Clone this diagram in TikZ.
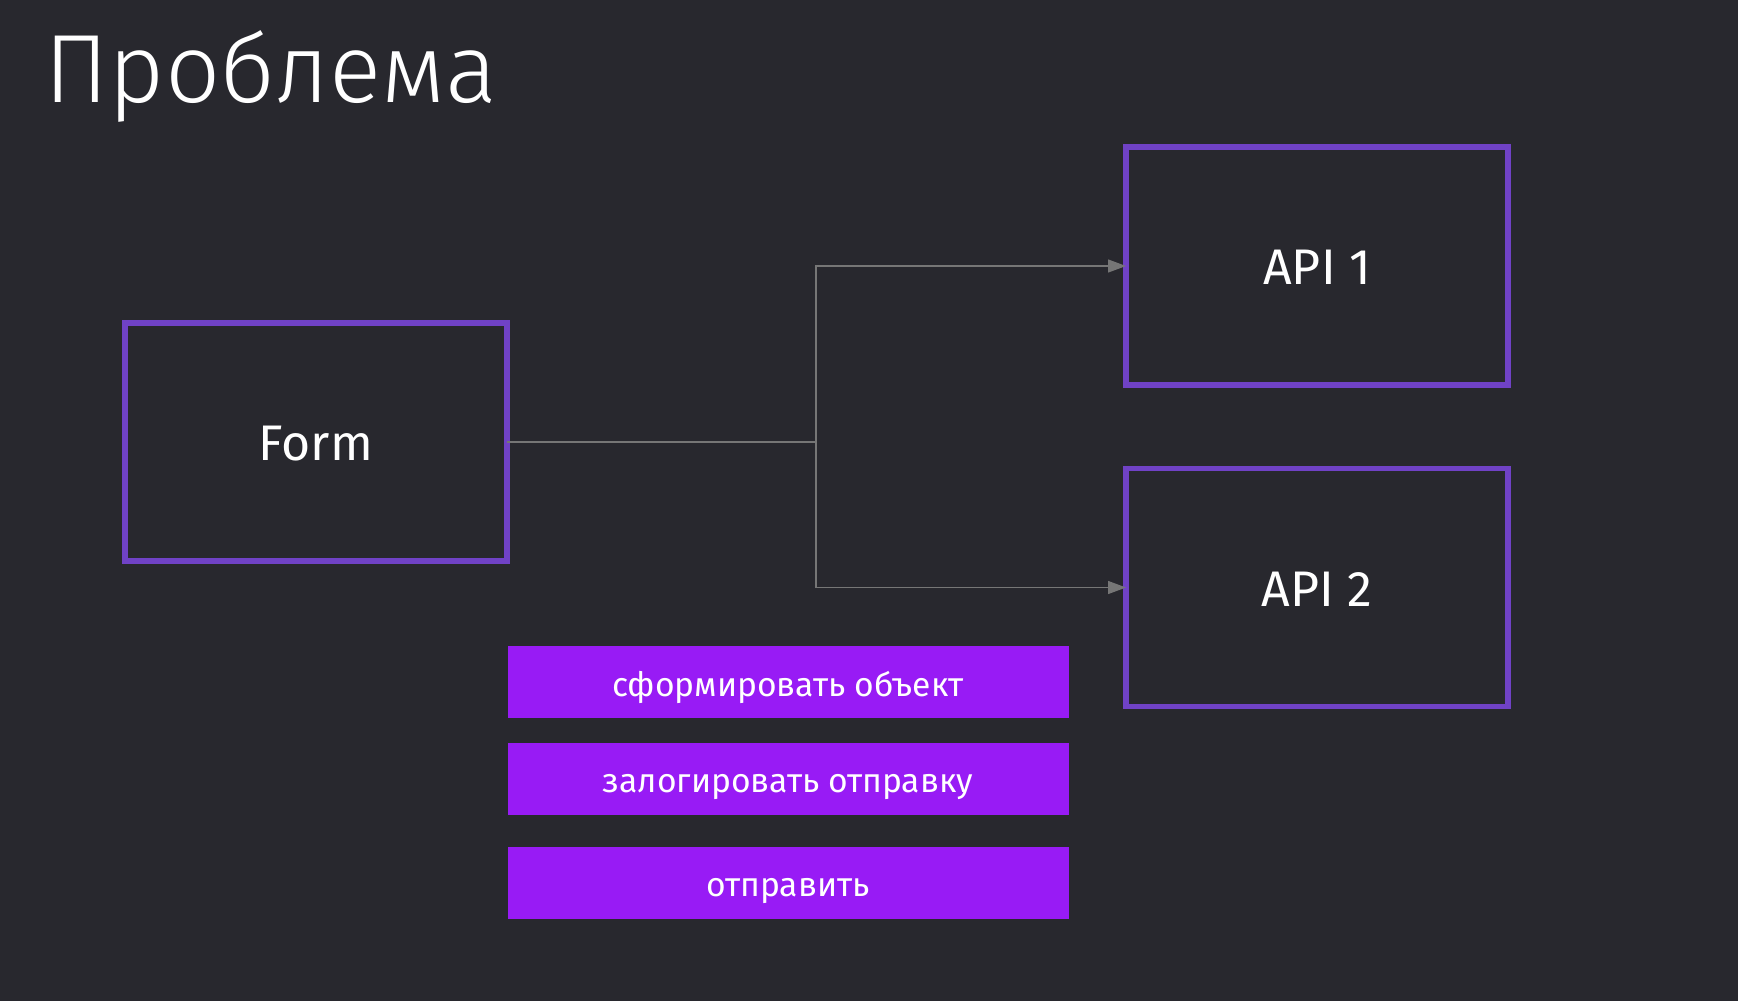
\documentclass[tikz,border=0pt]{standalone}
\usepackage{fontspec}
\setmainfont{Fira Sans}
\newfontfamily\titlefont{Fira Sans Light}
\usetikzlibrary{arrows.meta}
\definecolor{bg}{RGB}{40,40,46}
\definecolor{boxline}{RGB}{112,66,198}
\definecolor{btnfill}{RGB}{152,27,245}
\definecolor{connc}{RGB}{118,118,118}
\begin{document}
\begin{tikzpicture}[x=0.5pt,y=-0.5pt,
  bigbox/.style={draw=boxline, line width=2.6pt, minimum width=191pt, minimum height=119pt, inner sep=0pt, outer sep=0pt, text=white, font=\fontsize{25}{30}\selectfont, text height=18.8pt, text depth=0pt},
  btn/.style={fill=btnfill, minimum width=280.5pt, minimum height=36pt, inner sep=0pt, outer sep=0pt, text=white, font=\fontsize{16.8}{20}\selectfont, text height=14pt, text depth=0pt},
  conn/.style={draw=connc, line width=0.6pt},
  arr/.style={conn, -{Triangle[length=9pt,width=6.5pt]}}]
\fill[bg] (0,0) rectangle (1738,1001);
\useasboundingbox (0,0) rectangle (1738,1001);
\node[anchor=base west, inner sep=0pt, text=white, font=\titlefont\fontsize{48.5}{58}\selectfont] (title) at (44,102) {Проблема};
\node[bigbox] (form) at (316,442) {Form};
\node[bigbox] (api1) at (1317,266) {API 1};
\node[bigbox] (api2) at (1317,587.5) {API 2};
\node[btn] (b1) at (788,682) {сформировать объект};
\node[btn] (b2) at (788,778.6) {залогировать отправку};
\node[btn] (b3) at (788,882.8) {отправить};
\coordinate (j) at (816,442);
\draw[conn] (form.east) -- (j);
\draw[arr] (j) |- (api1.west);
\draw[arr] (j) |- (api2.west);
\end{tikzpicture}
\end{document}
